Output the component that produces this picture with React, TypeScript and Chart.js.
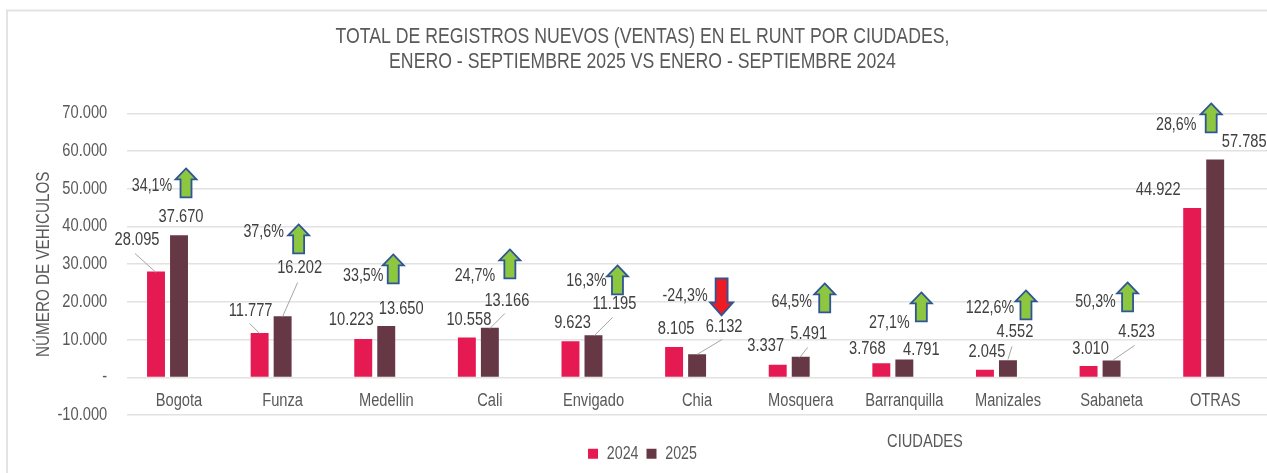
import React, { useEffect, useRef } from "react";
import { Chart, registerables } from "chart.js";

Chart.register(...registerables);

const categories = ["Bogota", "Funza", "Medellin", "Cali", "Envigado", "Chia", "Mosquera", "Barranquilla", "Manizales", "Sabaneta", "OTRAS"];
const values2024 = [28095, 11777, 10223, 10558, 9623, 8105, 3337, 3768, 2045, 3010, 44922];
const values2025 = [37670, 16202, 13650, 13166, 11195, 6132, 5491, 4791, 4552, 4523, 57785];
const growth = [34.1, 37.6, 33.5, 24.7, 16.3, -24.3, 64.5, 27.1, 122.6, 50.3, 28.6];
const titleLines = ["TOTAL DE REGISTROS NUEVOS (VENTAS) EN EL RUNT POR CIUDADES,", "ENERO - SEPTIEMBRE 2025 VS ENERO - SEPTIEMBRE 2024"];
const yTitle = "NÚMERO DE VEHICULOS";
const xTitle = "CIUDADES";

// Annotation placement, in px relative to (category centre, zero line)
const label2024Offsets = [[-42, -137], [-32, -66], [-35, -57], [-21, -57], [-21, -54], [-21, -48], [-35, -31], [-37, -28], [-21, -25], [-21, -28], [-57, -187]];
const label2025Offsets = [[2, -160], [17, -109], [15, -68], [17, -76], [21, -73], [27, -50], [8, -43], [17, -27], [7, -45], [25, -45], [29, -235]];
const growthOffsets = [[-27, -191], [-19, -145], [-23, -101], [-15, -101], [-7, -96], [-12, -81], [-9, -75], [-15, -54], [-18, -69], [-16, -75], [-39, -252]];
const arrowOffsets = [[7, -209], [16, -153], [7, -123], [20, -128], [24, -112], [24.5, -99], [24, -94], [17, -85], [18, -87], [16, -95], [-4, -274]];
const leaderLines = [
  [0, -44, -124, -23, -105], [1, -33, -54, -23, -44], [1, 15, -95, 0, -61], [3, 15, -64, 0, -49], [4, 19, -60, 1, -42],
  [5, 25, -38, 0, -23], [6, 7, -30, -1, -20], [8, 4, -31, 0, -18], [9, 23, -32, 1, -17],
];

const FONT = '"Liberation Sans", Arial, sans-serif';
const GREY = "#595959";
const DARK = "#404040";
const NARROW = 0.815;
const fmt = (v: number) => String(v).replace(/\B(?=(\d{3})+(?!\d))/g, ".");

// The reference uses a narrow face that is not installed: squeeze every text horizontally.
function condense(ctx: any) {
  const fill = ctx.fillText.bind(ctx);
  const measure = ctx.measureText.bind(ctx);
  ctx.fillText = (t: string, x: number, y: number) => {
    ctx.save();
    ctx.translate(x, y);
    ctx.scale(NARROW, 1);
    fill(t, 0, 0);
    ctx.restore();
  };
  ctx.measureText = (t: string) => {
    const m = measure(t);
    return { width: m.width * NARROW, actualBoundingBoxAscent: m.actualBoundingBoxAscent, actualBoundingBoxDescent: m.actualBoundingBoxDescent };
  };
}

function arrow(ctx: CanvasRenderingContext2D, cx: number, top: number, up: boolean) {
  const h = up ? 29 : 37;
  const headW = up ? 10.5 : 11.5;
  const shaftW = up ? 5.5 : 6;
  const headH = up ? 11 : 13;
  ctx.beginPath();
  if (up) {
    ctx.moveTo(cx, top);
    ctx.lineTo(cx + headW, top + headH);
    ctx.lineTo(cx + shaftW, top + headH);
    ctx.lineTo(cx + shaftW, top + h);
    ctx.lineTo(cx - shaftW, top + h);
    ctx.lineTo(cx - shaftW, top + headH);
    ctx.lineTo(cx - headW, top + headH);
  } else {
    ctx.moveTo(cx - shaftW, top);
    ctx.lineTo(cx + shaftW, top);
    ctx.lineTo(cx + shaftW, top + h - headH);
    ctx.lineTo(cx + headW, top + h - headH);
    ctx.lineTo(cx, top + h);
    ctx.lineTo(cx - headW, top + h - headH);
    ctx.lineTo(cx - shaftW, top + h - headH);
  }
  ctx.closePath();
  ctx.fillStyle = up ? "#8DC63F" : "#ED1C24";
  ctx.fill();
  ctx.lineWidth = 1.8;
  ctx.strokeStyle = "#2F5597";
  ctx.stroke();
}

const framePlugin = {
  id: "frame",
  beforeDraw(chart: any) {
    const { ctx, width, height } = chart;
    ctx.save();
    ctx.fillStyle = "#ffffff";
    ctx.fillRect(0, 0, width, height);
    ctx.strokeStyle = "#e3e3e3";
    ctx.lineWidth = 2;
    ctx.beginPath();
    ctx.moveTo(7, height);
    ctx.lineTo(7, 10.5);
    ctx.lineTo(width, 10.5);
    ctx.stroke();
    ctx.restore();
  },
};

const annotationPlugin = {
  id: "annotations",
  afterDatasetsDraw(chart: any) {
    const { ctx, scales } = chart;
    const zero = scales.y.getPixelForValue(0);
    const cx = (i: number) => scales.x.getPixelForValue(i);
    ctx.save();
    ctx.strokeStyle = "#a6a6a6";
    ctx.lineWidth = 1;
    leaderLines.forEach(([i, x1, y1, x2, y2]) => {
      ctx.beginPath();
      ctx.moveTo(cx(i) + x1, zero + y1);
      ctx.lineTo(cx(i) + x2, zero + y2);
      ctx.stroke();
    });
    ctx.textAlign = "center";
    ctx.textBaseline = "middle";
    ctx.fillStyle = DARK;
    categories.forEach((_, i) => {
      ctx.font = `18px ${FONT}`;
      ctx.fillText(fmt(values2024[i]), cx(i) + label2024Offsets[i][0], zero + label2024Offsets[i][1]);
      ctx.fillText(fmt(values2025[i]), cx(i) + label2025Offsets[i][0], zero + label2025Offsets[i][1]);
      ctx.font = `17.5px ${FONT}`;
      ctx.fillText(`${String(growth[i]).replace(".", ",")}%`, cx(i) + growthOffsets[i][0], zero + growthOffsets[i][1]);
    });
    categories.forEach((_, i) => {
      arrow(ctx, cx(i) + arrowOffsets[i][0], zero + arrowOffsets[i][1], growth[i] >= 0);
    });
    ctx.fillStyle = GREY;
    ctx.font = `18px ${FONT}`;
    ctx.fillText(xTitle, 925, 442);
    ctx.restore();
  },
};

export default function App() {
  const ref = useRef<HTMLCanvasElement>(null);
  useEffect(() => {
    condense(ref.current!.getContext("2d"));
    const chart = new Chart(ref.current!, {
      type: "bar",
      data: {
        labels: categories,
        datasets: [
          { label: "2024", data: values2024, backgroundColor: "#E61A52" },
          { label: "2025", data: values2025, backgroundColor: "#663845" },
          { label: "Variación", data: categories.map(() => null), backgroundColor: "#8DC63F" },
        ],
      },
      options: {
        responsive: false,
        animation: false,
        layout: { padding: { left: 18, right: 0, top: 0, bottom: 0.5 } },
        datasets: { bar: { categoryPercentage: 0.666, barPercentage: 0.78 } },
        scales: {
          x: {
            position: { y: 0 },
            grid: { display: false },
            border: { display: false },
            ticks: { color: GREY, font: { family: FONT, size: 18 }, padding: 5, maxRotation: 0, autoSkip: false },
          },
          y: {
            min: -10000,
            max: 70000,
            afterFit: (s: any) => { s.width = 109.2; },
            grid: { color: "#e2e2e2", lineWidth: 1.5, drawTicks: false },
            border: { display: false },
            title: { display: true, text: yTitle, color: GREY, font: { family: FONT, size: 18.7 }, padding: { top: 15, bottom: 0 } },
            ticks: {
              stepSize: 10000,
              color: GREY,
              padding: 20,
              font: { family: FONT, size: 18 },
              callback: (v: any) => (v === 0 ? "-" : (v < 0 ? "-" : "") + fmt(Math.abs(v))),
            },
          },
        },
        plugins: {
          title: {
            display: true,
            text: titleLines,
            color: GREY,
            font: { family: FONT, size: 21.7, weight: "normal", lineHeight: 1.152 },
            padding: { top: 24.5, bottom: 38.8 },
          },
          legend: {
            position: "bottom",
            title: { display: true, text: " ", font: { size: 1 }, padding: { top: 10.2, bottom: 10.4 } },
            labels: {
              color: GREY,
              boxWidth: 10,
              boxHeight: 10,
              padding: 8,
              font: { family: FONT, size: 17.5 },
              filter: (item: any) => item.text !== "Variación",
            },
          },
          tooltip: { enabled: false },
        },
      },
      plugins: [framePlugin, annotationPlugin],
    } as any);
    return () => chart.destroy();
  }, []);
  return (
    <div style={{ position: "absolute", left: 0, top: 0, width: 1267, height: 473 }}>
      <canvas ref={ref} width={1267} height={473} style={{ display: "block" }} />
    </div>
  );
}
